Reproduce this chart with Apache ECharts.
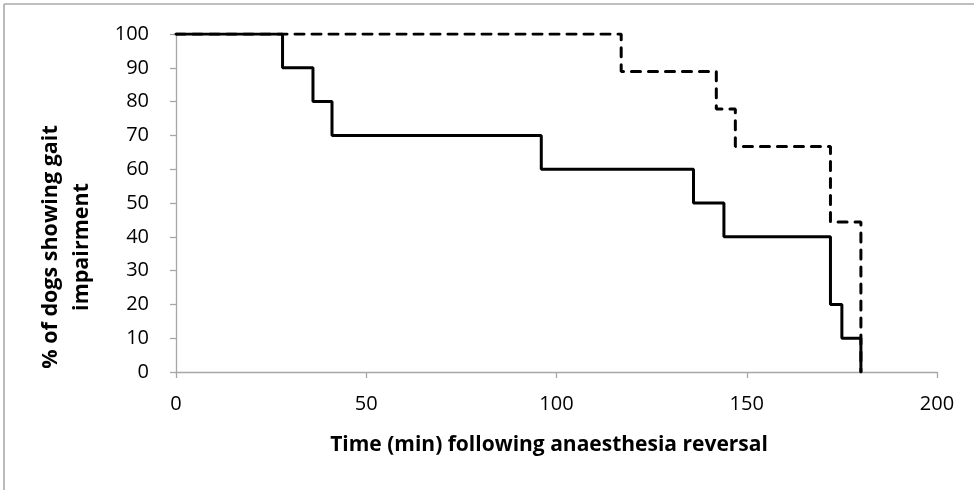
<!DOCTYPE html>
<html>
<head>
<meta charset="utf-8">
<script src="https://cdn.jsdelivr.net/npm/echarts@6/dist/echarts.min.js"></script>
<style>
html,body{margin:0;padding:0;background:#fff;}
#chart{width:974px;height:490px;}
</style>
</head>
<body>
<div id="chart"></div>
<script>
// Time (min) and % of dogs showing gait impairment (Kaplan-Meier steps)
const solidTimes = [0, 28, 36, 41, 96, 136, 144, 172, 175, 180];
const solidValues = [100, 90, 80, 70, 60, 50, 40, 20, 10, 0];
const dashedTimes = [0, 117, 142, 147, 172, 180];
const dashedValues = [100, 88.9, 77.8, 66.7, 44.4, 0];
const xTicks = [0, 50, 100, 150, 200];
const yTicks = [0, 10, 20, 30, 40, 50, 60, 70, 80, 90, 100];
const xTitle = 'Time (min) following anaesthesia reversal';
const yTitle = '% of dogs showing gait\nimpairment';

const pair = (xs, ys) => xs.map((x, i) => [x, ys[i]]);

const chart = echarts.init(document.getElementById('chart'), null, {renderer: 'canvas'});
const axisGray = '#a6a6a6';
const font = "'Open Sans', 'Liberation Sans', sans-serif";

chart.setOption({
  animation: false,
  backgroundColor: '#ffffff',
  grid: {left: 176, right: 37, top: 34, bottom: 118, containLabel: false},
  xAxis: {
    type: 'value', min: xTicks[0], max: xTicks[xTicks.length - 1], interval: 50,
    axisLine: {show: true, onZero: false, lineStyle: {color: axisGray, width: 1.3}},
    axisTick: {show: true, inside: false, length: 6, lineStyle: {color: axisGray, width: 1.3}},
    splitLine: {show: false},
    axisLabel: {color: '#000', fontFamily: font, fontSize: 20, margin: 22}
  },
  yAxis: {
    type: 'value', min: yTicks[0], max: yTicks[yTicks.length - 1], interval: 10,
    axisLine: {show: true, lineStyle: {color: axisGray, width: 1.3}},
    axisTick: {show: true, inside: false, length: 6, lineStyle: {color: axisGray, width: 1.3}},
    splitLine: {show: false},
    axisLabel: {color: '#000', fontFamily: font, fontSize: 20, margin: 27}
  },
  series: [
    {
      type: 'line', step: 'end', symbol: 'none',
      data: pair(dashedTimes, dashedValues),
      lineStyle: {color: '#000', width: 3, type: [9, 8], cap: 'round'}
    },
    {
      type: 'line', step: 'end', symbol: 'none',
      data: pair(solidTimes, solidValues),
      lineStyle: {color: '#000', width: 3}
    }
  ],
  graphic: [
    {type: 'line', shape: {x1: 4, y1: 4, x2: 4, y2: 490}, style: {stroke: '#aaaaaa', lineWidth: 1.6}},
    {type: 'line', shape: {x1: 4, y1: 4, x2: 974, y2: 4}, style: {stroke: '#aaaaaa', lineWidth: 1.6}},
    {type: 'text', x: 549, y: 445, style: {text: xTitle, font: "bold 21px 'Open Sans', 'Liberation Sans', sans-serif", fill: '#000', align: 'center', verticalAlign: 'middle'}},
    {type: 'text', x: 66, y: 247, rotation: Math.PI / 2, style: {text: yTitle, font: "bold 21.5px 'Open Sans', 'Liberation Sans', sans-serif", fill: '#000', align: 'center', verticalAlign: 'middle', lineHeight: 31}}
  ]
});
</script>
</body>
</html>
